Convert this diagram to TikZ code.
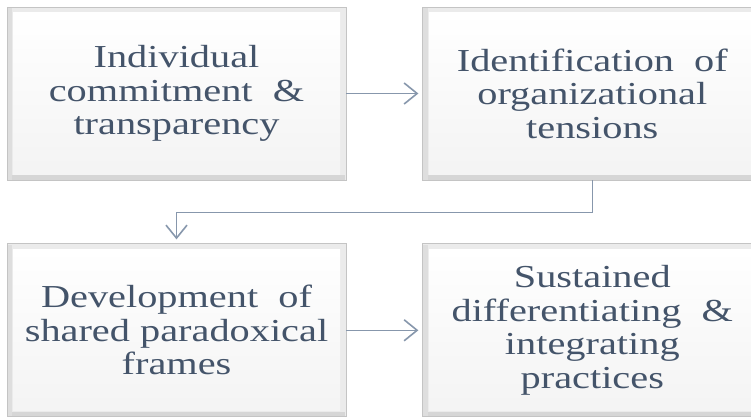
\documentclass[tikz,border=0pt]{standalone}
\usepackage{fontspec}
\setmainfont{Liberation Serif}[FakeStretch=1.26]
\usepackage{tikz}
\usetikzlibrary{positioning,arrows.meta}
\definecolor{txtblue}{HTML}{44546A}
\definecolor{linkgray}{HTML}{8797AC}
\definecolor{bevelgray}{HTML}{C4C4C4}

\begin{document}
\begin{tikzpicture}[x=1pt, y=-1pt,
    stage/.style={minimum width=339pt, minimum height=173pt, inner sep=0pt,
        align=center, text=txtblue, font=\fontsize{32}{33.5}\selectfont,
        draw=bevelgray, line width=0.8pt,
        path picture={
            \fill[gray!16] (path picture bounding box.south west) rectangle (path picture bounding box.north east);
            \fill[gray!32] (path picture bounding box.south west) rectangle ([shift={(-1pt,5pt)}]path picture bounding box.south east);
            \fill[gray!26] (path picture bounding box.south west) rectangle ([shift={(5pt,-1pt)}]path picture bounding box.north west);
            \shade[top color=white, bottom color=gray!9] ([shift={(6pt,-6pt)}]path picture bounding box.north west) rectangle ([shift={(-6pt,6pt)}]path picture bounding box.south east);
        }},
    link/.style={draw=linkgray, line width=1.6pt, -{Straight Barb[length=13pt,width=21pt]}, shorten >=4pt}]
    \useasboundingbox (0,0) rectangle (751,417);
    \node[stage] (indiv) at (176.5,93.5) {Individual\\commitment~ \&\\transparency};
    \node[stage, right=76pt of indiv] (ident) {Identification~ of\\organizational\\tensions};
    \node[stage, below=63pt of indiv] (devel) {Development~ of\\shared paradoxical\\frames};
    \node[stage, right=76pt of devel] (sust) {Sustained\\differentiating~ \&\\integrating\\practices};

    \draw[link] (indiv) -- (ident);
    \draw[link] (ident.south) -- ++(0,32) -| (devel.north);
    \draw[link] (devel) -- (sust);
\end{tikzpicture}
\end{document}
